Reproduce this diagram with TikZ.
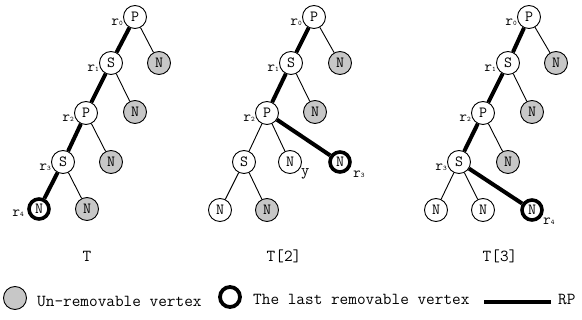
\documentclass[tikz,border=0pt]{standalone}
\usepackage{fontspec}
\begin{document}
\begin{tikzpicture}[x=1pt,y=-1pt,
  big/.style={font=\ttfamily\fontsize{16.8}{17}\selectfont},
  vtx/.style={circle,draw,line width=0.9pt,minimum size=23pt,inner sep=0pt,
              font=\ttfamily\fontsize{15.5}{16}\selectfont},
  fixd/.style={vtx,fill=black!22},
  lastv/.style={vtx,line width=3.6pt,minimum size=20pt},
  tedge/.style={line width=0.9pt},
  rp/.style={line width=4pt},
  rlab/.style={inner sep=0pt,font=\ttfamily\fontsize{15}{15}\selectfont}
]
\useasboundingbox (0,0) rectangle (582,320);
\newcommand{\rr}[1]{r{\fontsize{7}{7}\selectfont #1}}

% ---------- T ----------
\node[vtx]   (a0) at (135,17)  {P};
\node[vtx]   (a1) at (111,63)  {S};
\node[fixd]  (a1n) at (159,63) {N};
\node[vtx]   (a2) at (86,113)  {P};
\node[fixd]  (a2n) at (135,112) {N};
\node[vtx]   (a3) at (63,162)  {S};
\node[fixd]  (a3n) at (111,162) {N};
\node[lastv] (a4) at (39,209)  {N};
\node[fixd]  (a4n) at (87,209) {N};
\draw[rp] (a0) -- (a1) -- (a2) -- (a3) -- (a4);
\draw[tedge] (a0) -- (a1n);
\draw[tedge] (a1) -- (a2n);
\draw[tedge] (a2) -- (a3n);
\draw[tedge] (a3) -- (a4n);
\node[rlab,anchor=base east] (la0) at (123,26)  {\rr{0}};
\node[rlab,anchor=base east] (la1) at (99,72)   {\rr{1}};
\node[rlab,anchor=base east] (la2) at (74,122)  {\rr{2}};
\node[rlab,anchor=base east] (la3) at (51,171)  {\rr{3}};
\node[rlab,anchor=base east] (la4) at (24,217)  {\rr{4}};
\node[big,anchor=base] (ta) at (87,262) {T};

% ---------- T[2] ----------
\node[vtx]   (b0) at (314,17)  {P};
\node[vtx]   (b1) at (291,63)  {S};
\node[fixd]  (b1n) at (340,63) {N};
\node[vtx]   (b2) at (267,113) {P};
\node[fixd]  (b2n) at (315,112) {N};
\node[vtx]   (b3) at (244,162) {S};
\node[vtx]   (b3y) at (290,162) {N};
\node[lastv] (b3r) at (340,162) {N};
\node[vtx]   (b4) at (220,210) {N};
\node[fixd]  (b4n) at (267,210) {N};
\draw[rp] (b0) -- (b1) -- (b2) -- (b3r);
\draw[tedge] (b0) -- (b1n);
\draw[tedge] (b1) -- (b2n);
\draw[tedge] (b2) -- (b3);
\draw[tedge] (b2) -- (b3y);
\draw[tedge] (b3) -- (b4);
\draw[tedge] (b3) -- (b4n);
\node[rlab,anchor=base east] (lb0) at (302,26)  {\rr{0}};
\node[rlab,anchor=base east] (lb1) at (279,72)  {\rr{1}};
\node[rlab,anchor=base east] (lb2) at (255,122) {\rr{2}};
\node[rlab,anchor=base west] (lb3) at (353,178) {\rr{3}};
\node[rlab,anchor=base west,font=\ttfamily\fontsize{16}{16}\selectfont] (ly) at (301,176) {y};
\node[big,anchor=base] (tb) at (284,262) {T[2]};

% ---------- T[3] ----------
\node[vtx]   (c0) at (529,17)  {P};
\node[vtx]   (c1) at (508,63)  {S};
\node[fixd]  (c1n) at (556,63) {N};
\node[vtx]   (c2) at (483,113) {P};
\node[fixd]  (c2n) at (532,112) {N};
\node[vtx]   (c3) at (459,162) {S};
\node[fixd]  (c3n) at (508,162) {N};
\node[vtx]   (c4a) at (436,210) {N};
\node[vtx]   (c4b) at (483,210) {N};
\node[lastv] (c4r) at (532,210) {N};
\draw[rp] (c0) -- (c1) -- (c2) -- (c3) -- (c4r);
\draw[tedge] (c0) -- (c1n);
\draw[tedge] (c1) -- (c2n);
\draw[tedge] (c2) -- (c3n);
\draw[tedge] (c3) -- (c4a);
\draw[tedge] (c3) -- (c4b);
\node[rlab,anchor=base east] (lc0) at (517,26)  {\rr{0}};
\node[rlab,anchor=base east] (lc1) at (496,72)  {\rr{1}};
\node[rlab,anchor=base east] (lc2) at (471,122) {\rr{2}};
\node[rlab,anchor=base east] (lc3) at (447,171) {\rr{3}};
\node[rlab,anchor=base west] (lc4) at (543,225) {\rr{4}};
\node[big,anchor=base] (tc) at (500,262) {T[3]};

% ---------- legend ----------
\node[fixd] (k1) at (15,298) {};
\node[big,anchor=base west,inner sep=0pt] (k1t) at (37,307) {Un-removable vertex};
\node[vtx,line width=3.8pt,minimum size=20pt] (k2) at (230,297) {};
\node[big,anchor=base west,inner sep=0pt] (k2t) at (253,305) {The last removable vertex};
\coordinate (k3a) at (484,302);
\coordinate (k3b) at (551,302);
\draw[rp] (k3a) -- (k3b);
\node[big,anchor=base west,inner sep=0pt] (k3t) at (558,305) {RP};
\end{tikzpicture}
\end{document}
